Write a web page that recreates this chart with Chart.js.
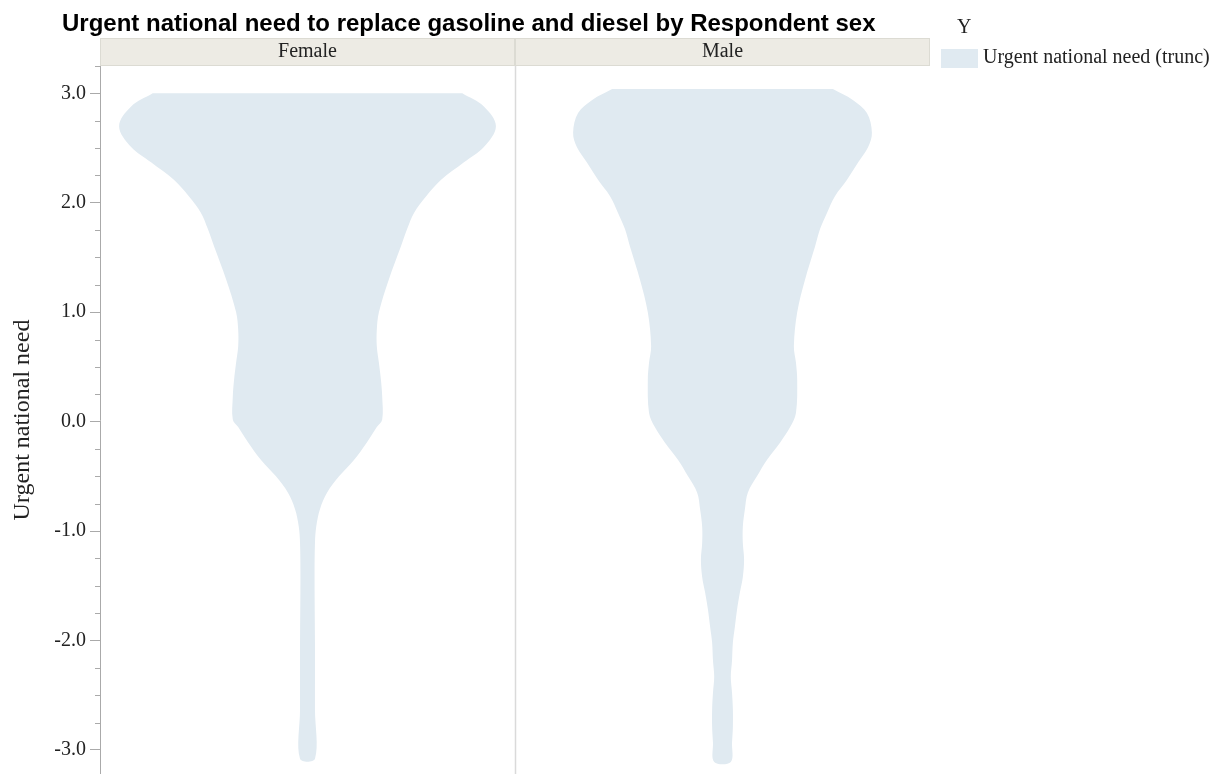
<!DOCTYPE html>
<html>
<head>
<meta charset="utf-8">
<script src="https://cdn.jsdelivr.net/npm/chart.js@4.4.0/dist/chart.umd.min.js"></script>
<style>
  html, body { margin: 0; padding: 0; background: #fff; overflow: hidden; }
  #wrap { position: relative; width: 1222px; height: 774px; overflow: hidden; }
</style>
</head>
<body>
<div id="wrap"><canvas id="violin_chart" width="1222" height="790"></canvas></div>
<script>
// panels (Respondent sex)
var panels = ["Female", "Male"];

// Female violin: y values and half widths (in panel widths)
var femaleY = [3.0, 2.88, 2.70, 2.51, 2.37, 2.21, 2.06, 1.91, 1.76, 1.60, 1.30, 1.00, 0.84, 0.69, 0.54, 0.38, 0.23, 0.02,
    -0.05, -0.19, -0.35, -0.50, -0.65, -0.80, -0.96, -1.11, -1.42, -2.02, -2.63, -3.08];
var femaleHalf = [0.373, 0.425, 0.454, 0.425, 0.377, 0.322, 0.286, 0.257, 0.240, 0.225, 0.196, 0.172, 0.167, 0.167, 0.172, 0.177, 0.180, 0.180,
    0.167, 0.143, 0.112, 0.076, 0.047, 0.030, 0.021, 0.018, 0.017, 0.018, 0.018, 0.018];

// Male violin
var maleY = [3.04, 2.94, 2.82, 2.64, 2.51, 2.37, 2.21, 2.06, 1.91, 1.76, 1.60, 1.30, 1.00, 0.69, 0.54, 0.38, 0.08,
    -0.05, -0.19, -0.35, -0.50, -0.65, -0.80, -0.96, -1.11, -1.26, -1.42, -1.56, -1.72, -1.87, -2.02, -2.18, -2.33, -2.48, -2.63, -2.79, -2.93, -3.11];
var maleHalf = [0.266, 0.314, 0.348, 0.360, 0.351, 0.327, 0.300, 0.271, 0.252, 0.235, 0.223, 0.199, 0.180, 0.172, 0.177, 0.180, 0.177,
    0.163, 0.139, 0.107, 0.083, 0.061, 0.054, 0.049, 0.049, 0.052, 0.049, 0.042, 0.035, 0.030, 0.025, 0.023, 0.020, 0.023, 0.025, 0.025, 0.023, 0.020];

var yTicks = [-3, -2, -1, 0, 1, 2, 3];

var violinColor = 'rgb(224, 234, 241)';
var serif = '"Liberation Serif", "Times New Roman", serif';

// outline: down the right side, back up the left side
function violin(center, ys, half) {
    var pts = [];
    for (var i = 0; i < ys.length; i++) pts.push({x: center + half[i], y: ys[i]});
    for (var j = ys.length - 1; j >= 0; j--) pts.push({x: center - half[j], y: ys[j]});
    return pts;
}

var frame = {
    id: 'frame',
    beforeDatasetsDraw: function(chart) {
        var c = chart.ctx, xs = chart.scales.x, a = chart.chartArea;
        c.save();
        // panel divider
        c.strokeStyle = '#dadada';
        c.lineWidth = 1.5;
        var xm = Math.round(xs.getPixelForValue(1)) + 0.5;
        c.beginPath(); c.moveTo(xm, a.top); c.lineTo(xm, a.bottom); c.stroke();
        c.restore();
    },
    afterDraw: function(chart) {
        var c = chart.ctx, xs = chart.scales.x, ys = chart.scales.y, a = chart.chartArea;
        c.save();
        // panel headers
        for (var i = 0; i < panels.length; i++) {
            var l = xs.getPixelForValue(i), r = xs.getPixelForValue(i + 1);
            c.fillStyle = '#edebe4';
            c.fillRect(l, a.top - 28, r - l, 28);
            c.strokeStyle = '#dcdbd3';
            c.lineWidth = 1;
            c.strokeRect(Math.round(l) + 0.5, a.top - 27.5, r - l - 1, 27);
            c.fillStyle = '#222';
            c.font = '20px ' + serif;
            c.textAlign = 'center';
            c.textBaseline = 'middle';
            c.fillText(panels[i], (l + r) / 2, a.top - 14);
        }
        // minor ticks
        c.strokeStyle = '#aaaaaa';
        c.lineWidth = 1;
        for (var v = -3; v <= 3.25; v += 0.25) {
            if (Math.abs(v - Math.round(v)) < 0.01) continue;
            var py = Math.round(ys.getPixelForValue(v)) + 0.5;
            c.beginPath(); c.moveTo(a.left - 5, py); c.lineTo(a.left, py); c.stroke();
        }
        // title
        c.fillStyle = '#000';
        c.font = 'bold 24px "Liberation Sans", Arial, sans-serif';
        c.textAlign = 'left';
        c.textBaseline = 'middle';
        c.fillText('Urgent national need to replace gasoline and diesel by Respondent sex', 62, 24);
        // legend
        c.fillStyle = '#222';
        c.font = '20px ' + serif;
        c.fillText('Y', 957, 28);
        c.fillStyle = violinColor;
        c.fillRect(941, 49, 37, 19);
        c.fillStyle = '#222';
        c.fillText('Urgent national need (trunc)', 983, 58);
        c.restore();
    }
};

var violinData = {
    datasets: [
        {
            label: panels[0],
            data: violin(0.5, femaleY, femaleHalf),
            showLine: true,
            fill: 'shape',
            backgroundColor: violinColor,
            borderWidth: 0,
            borderColor: 'rgba(0,0,0,0)',
            pointRadius: 0,
            tension: 0.35
        },
        {
            label: panels[1],
            data: violin(1.5, maleY, maleHalf),
            showLine: true,
            fill: 'shape',
            backgroundColor: violinColor,
            borderWidth: 0,
            borderColor: 'rgba(0,0,0,0)',
            pointRadius: 0,
            tension: 0.35
        }
    ]
};

var violinOptions = {
    responsive: false,
    animation: false,
    layout: {padding: {left: 0, top: 66, right: 292, bottom: 0}},
    plugins: {legend: {display: false}, tooltip: {enabled: false}, title: {display: false}},
    scales: {
        x: {type: 'linear', min: 0, max: 2, display: false},
        y: {
            type: 'linear',
            min: -3.22,
            max: 3.25,
            afterFit: function(scale) { scale.width = 100; },
            afterBuildTicks: function(scale) { scale.ticks = yTicks.map(function(v) { return {value: v}; }); },
            ticks: {
                color: '#222',
                font: {family: serif, size: 20},
                padding: 4,
                callback: function(v) { return Number(v).toFixed(1); }
            },
            grid: {drawOnChartArea: false, tickLength: 10, color: '#aaaaaa'},
            border: {color: '#aaaaaa', width: 1},
            title: {
                display: true,
                text: 'Urgent national need',
                color: '#222',
                font: {family: serif, size: 24},
                padding: {top: 8, bottom: 0}
            }
        }
    }
};

var ctx = document.getElementById("violin_chart").getContext("2d");
new Chart(ctx, {type: 'scatter', data: violinData, options: violinOptions, plugins: [frame]});
</script>
</body>
</html>
